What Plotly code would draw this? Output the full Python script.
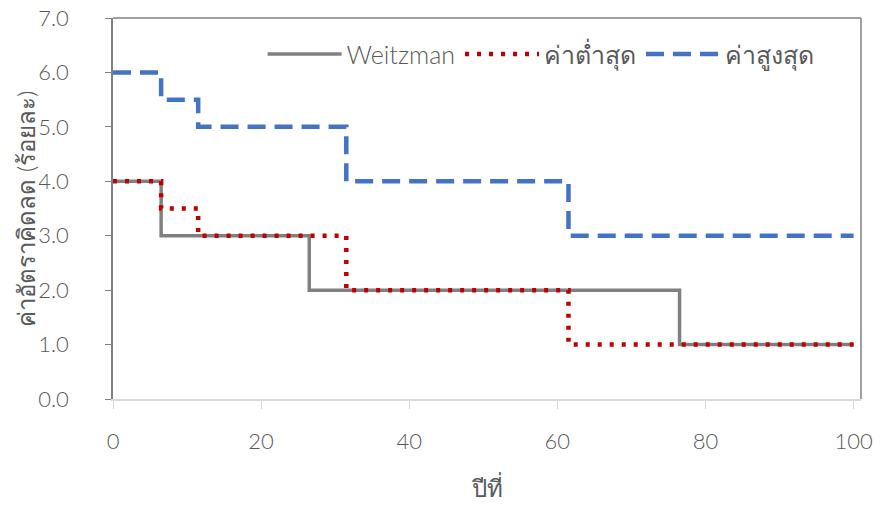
import plotly.graph_objects as go

# Data (year breakpoints and discount rates, %)
weitzman_years = [0, 6.5, 26.5, 76.5, 100]
weitzman_rates = [4.0, 3.0, 2.0, 1.0, 1.0]

low_years = [0, 6.5, 11.5, 31.5, 61.5, 100]
low_rates = [4.0, 3.5, 3.0, 2.0, 1.0, 1.0]

high_years = [0, 6.5, 11.5, 31.5, 61.5, 100]
high_rates = [6.0, 5.5, 5.0, 4.0, 3.0, 3.0]

series_names = ["Weitzman", "ค่าต่ำสุด", "ค่าสูงสุด"]
x_ticks = [0, 20, 40, 60, 80, 100]
y_ticks = [0, 1, 2, 3, 4, 5, 6, 7]
x_title = "ปีที่"
y_title = "ค่าอัตราคิดลด (ร้อยละ)"

FONT = "Lato, Noto Sans, sans-serif"
TXT = "#595959"

fig = go.Figure()
fig.add_trace(go.Scatter(x=weitzman_years, y=weitzman_rates, mode="lines",
                         line=dict(shape="hv", color="#808080", width=3.5),
                         name=series_names[0]))
fig.add_trace(go.Scatter(x=low_years, y=low_rates, mode="lines",
                         line=dict(shape="hv", color="#C00000", width=4.5, dash="4px,8px"),
                         name=series_names[1]))
fig.add_trace(go.Scatter(x=high_years, y=high_rates, mode="lines",
                         line=dict(shape="hv", color="#4472C4", width=4.5, dash="18px,9px"),
                         name=series_names[2]))

fig.update_layout(
    width=880, height=507,
    margin=dict(l=113, r=19, t=18, b=108, autoexpand=False),
    paper_bgcolor="white", plot_bgcolor="white",
    font=dict(family=FONT, size=22, color=TXT, weight=300),
    showlegend=True,
    legend=dict(orientation="h", x=0.2, y=0.905, xanchor="left", yanchor="middle",
                font=dict(size=25, color=TXT, weight=300), bgcolor="rgba(0,0,0,0)",
                traceorder="normal", itemwidth=74, tracegroupgap=0),
    xaxis=dict(range=[0, 101], tickvals=x_ticks, ticktext=[str(v) for v in x_ticks],
               showgrid=False, zeroline=False, showline=True, linecolor="#D9D9D9",
               linewidth=1.5, ticks="outside", ticklen=8, tickcolor="#D9D9D9",
               tickfont=dict(size=22, color=TXT, weight=300), automargin=False,
               ticklabelstandoff=14, ticklabeloverflow="allow",
               title=dict(text=x_title, font=dict(size=24, color=TXT, weight=300), standoff=27)),
    yaxis=dict(range=[0, 7], tickvals=y_ticks, ticktext=[f"{v:.1f}" for v in y_ticks],
               showgrid=False, zeroline=False, showline=True, linecolor="#808080",
               linewidth=1.5, ticks="outside", ticklen=6, tickcolor="#808080",
               tickfont=dict(size=22, color=TXT, weight=300), automargin=False,
               ticklabelstandoff=32, ticklabeloverflow="allow"),
    annotations=[
        dict(text=y_title, xref="paper", yref="paper", x=0, y=0.5, xshift=-88,
             xanchor="center", yanchor="middle", textangle=-90, showarrow=False,
             font=dict(size=24, color=TXT, weight=300)),
    ],
    shapes=[
        dict(type="line", xref="paper", yref="paper", x0=0, x1=1, y0=1, y1=1,
             line=dict(color="#808080", width=1.5)),
        dict(type="line", xref="paper", yref="paper", x0=1, x1=1, y0=0, y1=1,
             line=dict(color="#808080", width=1.5)),
    ],
)

fig.write_html("out.html", config={"displayModeBar": False},
               post_script="document.body.style.margin='0';")
